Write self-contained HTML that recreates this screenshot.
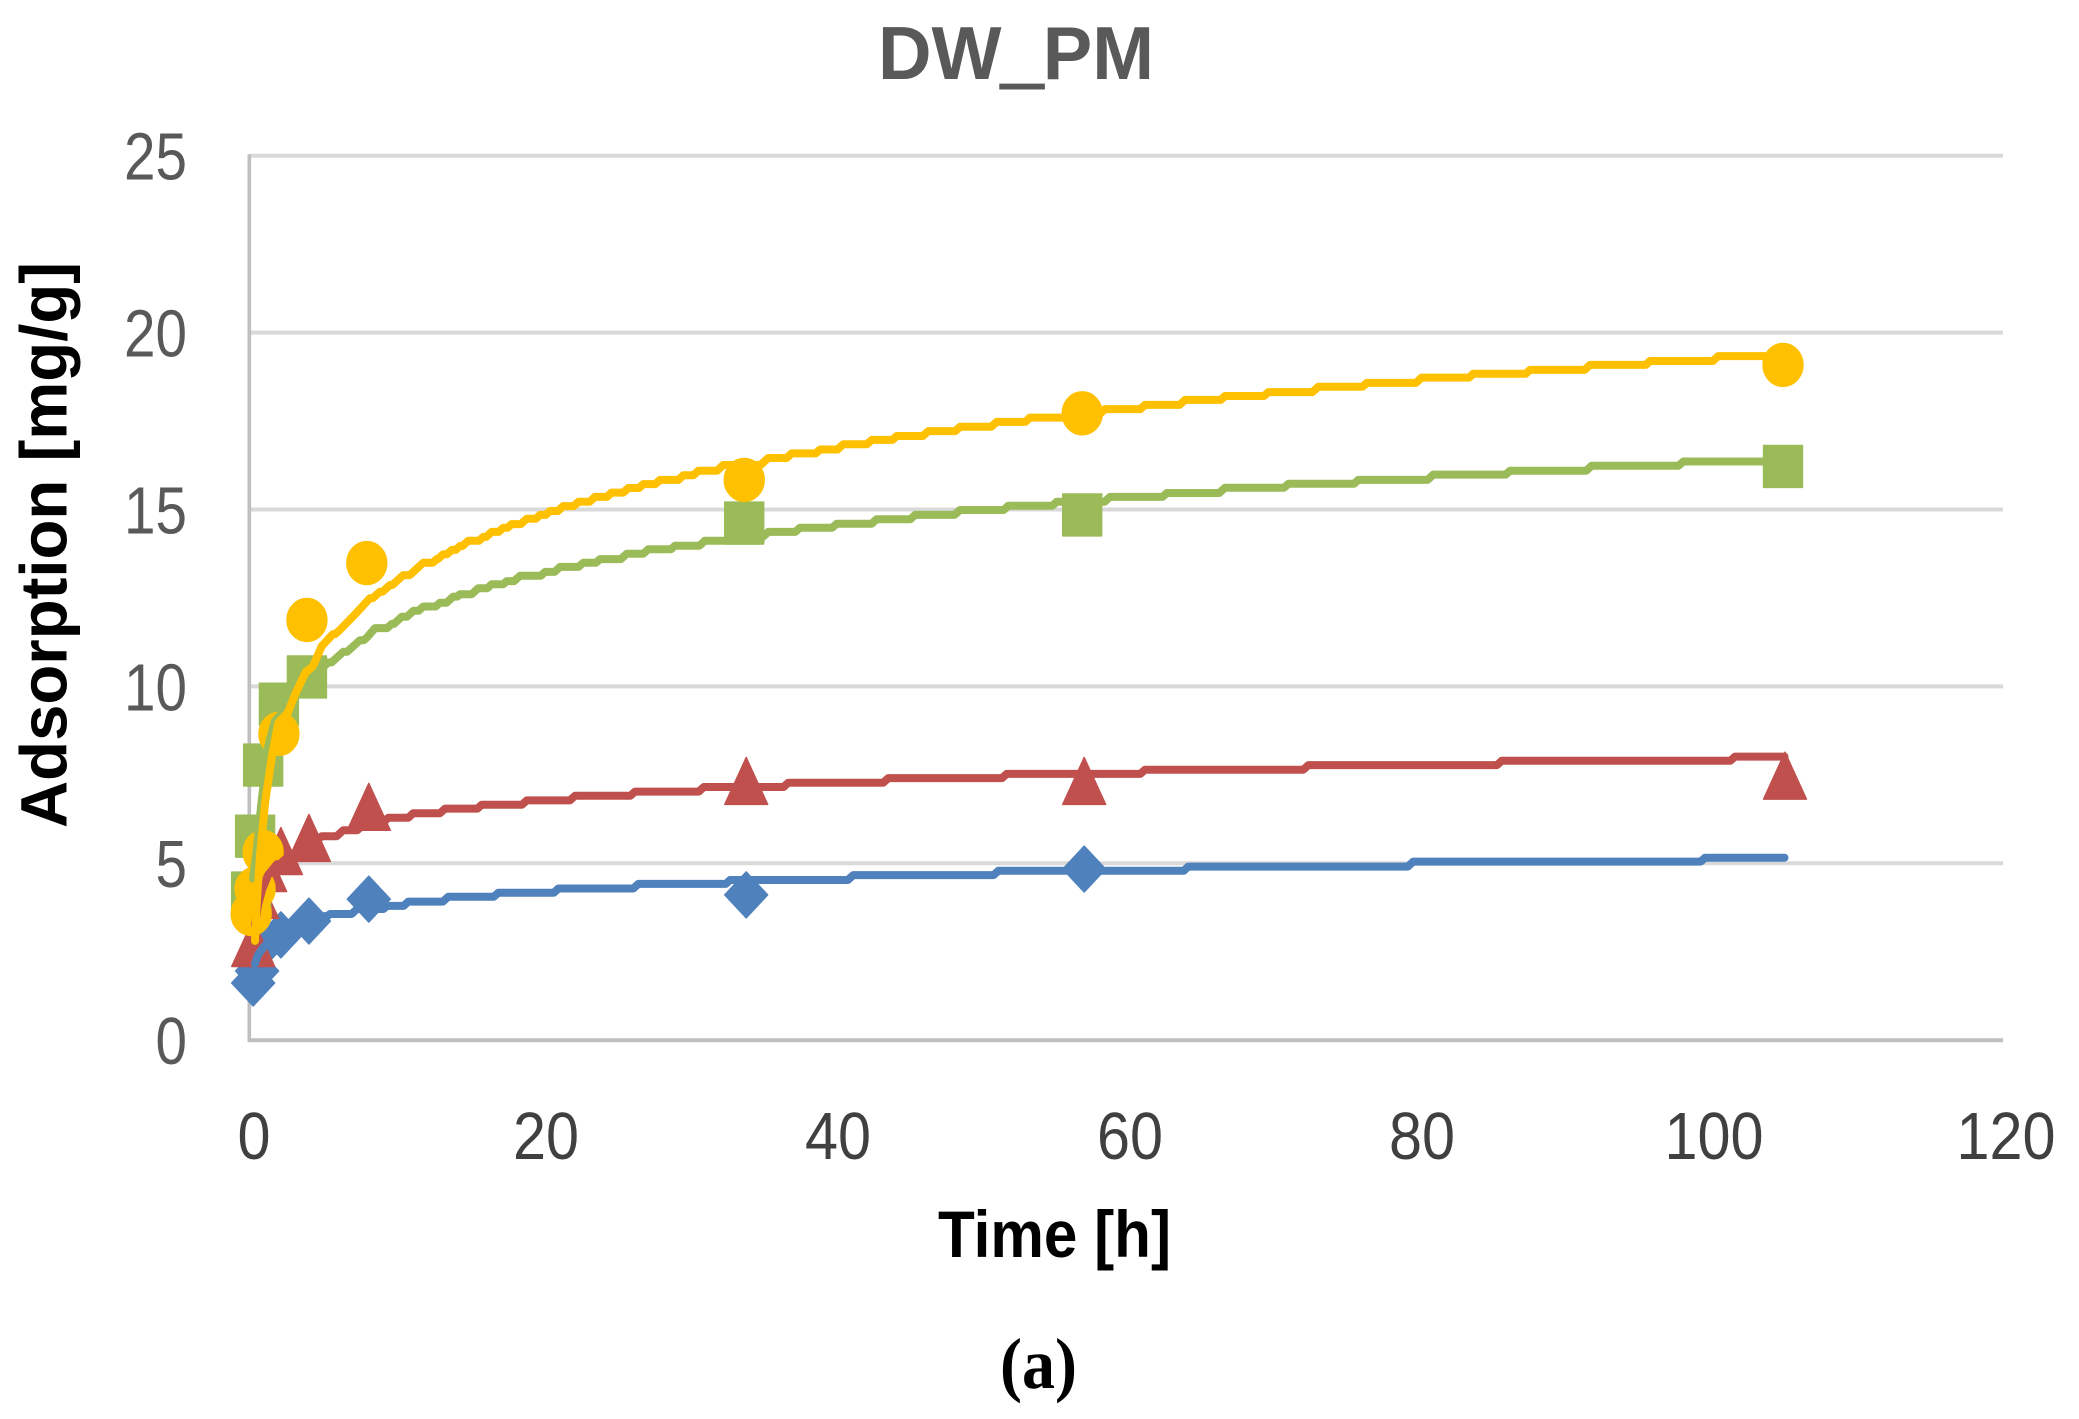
<!DOCTYPE html>
<html lang="en">
<head>
<meta charset="utf-8">
<title>DW_PM adsorption chart</title>
<style>
html,body{margin:0;padding:0;background:#fff;}
svg{display:block;}
text{font-family:"Liberation Sans",sans-serif;}
</style>
</head>
<body>
<svg id="chart" xmlns="http://www.w3.org/2000/svg" width="2079" height="1419" viewBox="0 0 2079 1419">
  <rect x="0" y="0" width="2079" height="1419" fill="#ffffff"/>
  <g id="grid"></g>
  <g id="axes"></g>
  <g id="ticks"></g>
  <g id="marks"></g>
  <g id="fits"></g>
  <text x="1016" y="79" text-anchor="middle" font-size="75" font-weight="700" fill="#595959" textLength="276" lengthAdjust="spacingAndGlyphs">DW<tspan stroke="#595959" stroke-width="3">_</tspan>PM</text>
  <text x="1054.5" y="1257" text-anchor="middle" font-size="66" font-weight="700" fill="#000000" textLength="233" lengthAdjust="spacingAndGlyphs">Time [h]</text>
  <text transform="translate(66.5 545) rotate(-90)" text-anchor="middle" font-size="66" font-weight="700" fill="#000000" textLength="566" lengthAdjust="spacingAndGlyphs">Adsorption [mg/g]</text>
  <text x="1038.5" y="1388" text-anchor="middle" font-size="72" font-weight="700" fill="#000000" textLength="77" lengthAdjust="spacingAndGlyphs" style="font-family:'Liberation Serif',serif">(a)</text>
</svg>
<script>
// Axis tick labels
const xTickLabels = [0, 20, 40, 60, 80, 100, 120];
const yTickLabels = [0, 5, 10, 15, 20, 25];

// Measured marker times (h) and values (mg/g); null = no marker visible
const markerTimes = [0.08, 0.35, 0.9, 1.98, 3.9, 8, 33.85, 57, 105];
const diamondValues = [1.6, 1.94, 2.73, 2.96, 3.35, 3.97, 4.09, 4.82, null];
const triangleValues = [2.73, 4.09, 4.85, 5.33, 5.7, 6.58, 7.31, 7.31, 7.46];
const squareValues = [4.14, 5.75, 7.76, 9.48, 10.25, null, 14.6, 14.83, 16.2];
const circleValues = [3.55, 4.26, 5.3, 8.64, 11.86, 13.47, 15.82, 17.7, 19.07];

// Fit lines
const blueFitTimes = [0.34,0.55,0.89,1.51,2.4,3.42,4.52,5.48,7.33,9.38,10.84,13.58,17.0,21.12,26.6,32.88,41.32,51.25,64.27,79.68,99.66,105.1];
const blueFitValues = [2.14,2.39,2.59,2.87,3.1,3.32,3.49,3.55,3.69,3.78,3.9,4.04,4.15,4.27,4.4,4.51,4.65,4.77,4.89,5.03,5.14,5.14];

const redFitTimes = [0.34,0.55,0.82,1.23,1.85,2.74,3.77,4.91,6.39,7.88,9.47,11.18,13.36,15.87,18.95,22.26,26.37,31.08,36.87,43.72,51.83,61.3,72.49,85.73,101.71,105.1];
const redFitValues = [3.24,3.8,4.23,4.65,4.96,5.22,5.5,5.75,5.92,6.12,6.27,6.4,6.53,6.64,6.76,6.89,7.01,7.14,7.26,7.39,7.51,7.63,7.76,7.88,8.0,8.0];

const greenFitTimes = [0.21,0.46,0.8,1.25,1.71,2.6,3.42,4.32,5.36,6.39,7.53,7.99,8.56,9.71,10.39,11.19,11.87,13.01,13.92,14.38,15.64,16.55,17.58,18.49,20.21,21.23,22.83,23.97,25.8,27.28,29.11,31.16,35.5,37.67,40.18,42.92,45.55,48.63,51.94,55.25,58.9,62.79,66.78,71.12,75.91,81.05,86.3,91.9,98.17,105.1];
const greenFitValues = [4.55,5.36,6.77,8.3,9.01,9.4,9.91,10.45,10.66,10.96,11.29,11.36,11.63,11.75,11.95,12.12,12.24,12.35,12.52,12.59,12.76,12.87,12.96,13.11,13.22,13.36,13.48,13.58,13.73,13.86,13.96,14.1,14.35,14.47,14.58,14.71,14.83,14.97,15.09,15.2,15.34,15.45,15.6,15.71,15.82,15.97,16.08,16.22,16.34,16.34];

const yellowFitTimes = [0.34,0.46,0.68,1.03,1.49,1.94,2.6,3.08,3.84,4.32,4.91,5.68,6.16,7.31,8.22,8.9,9.59,10.5,11.18,11.87,12.79,13.24,13.82,14.38,14.95,15.98,16.55,17.35,17.92,18.95,19.86,20.55,21.46,22.49,23.63,24.77,25.91,26.94,28.08,29.68,30.71,32.42,35.5,37.1,39.04,40.64,42.58,44.29,46.46,48.63,51.14,53.42,58.56,61.3,64.04,66.78,69.75,73.17,76.49,80.25,83.79,87.67,91.78,95.89,100.57,105.1];
const yellowFitValues = [2.79,3.84,5.16,6.67,7.99,8.95,9.25,9.75,10.41,10.56,11.12,11.46,11.58,12.07,12.48,12.66,12.85,13.13,13.22,13.48,13.58,13.72,13.84,13.95,14.1,14.21,14.35,14.47,14.57,14.72,14.83,14.94,15.08,15.2,15.34,15.46,15.59,15.7,15.82,15.95,16.08,16.24,16.44,16.57,16.68,16.83,16.95,17.06,17.2,17.32,17.46,17.58,17.82,17.94,18.08,18.19,18.3,18.45,18.56,18.71,18.82,18.93,19.07,19.18,19.32,19.32];

const SVG_NS = 'http://www.w3.org/2000/svg';
function xScale(t) { return 250 + 14.6 * t; }
function yScale(v) { return 1039.6 - 35.38 * v; }

const gridLayer = document.getElementById('grid');
const axesLayer = document.getElementById('axes');
const tickLayer = document.getElementById('ticks');
const markLayer = document.getElementById('marks');
const fitLayer = document.getElementById('fits');

// Gridlines and y tick labels
yTickLabels.forEach(function (v) {
  if (v !== 0) {
    const line = document.createElementNS(SVG_NS, 'line');
    
    
    line.setAttribute('x1', xScale(0));
    line.setAttribute('x2', xScale(120) + 1);
    line.setAttribute('y1', yScale(v) + 0.6);
    line.setAttribute('y2', yScale(v) + 0.6);
    line.setAttribute('stroke', '#d9d9d9');
    line.setAttribute('stroke-width', '4');
    gridLayer.appendChild(line);
  } else {
    const line = document.createElementNS(SVG_NS, 'line');
    
    
    line.setAttribute('x1', xScale(0) - 1.7);
    line.setAttribute('x2', xScale(120) + 1);
    line.setAttribute('y1', yScale(0) + 0.6);
    line.setAttribute('y2', yScale(0) + 0.6);
    line.setAttribute('stroke', '#bfbfbf');
    line.setAttribute('stroke-width', '4');
    axesLayer.appendChild(line);
  }
  const label = document.createElementNS(SVG_NS, 'text');
  
  
  label.setAttribute('x', 187);
  label.setAttribute('y', yScale(v) + 24.5);
  label.setAttribute('text-anchor', 'end');
  label.setAttribute('font-size', '67');
  label.setAttribute('fill', '#595959');
  label.setAttribute('textLength', String(v).length * 31.5);
  label.setAttribute('lengthAdjust', 'spacingAndGlyphs');
  label.textContent = String(v);
  tickLayer.appendChild(label);
});

// Left axis line
const yAxisLine = document.createElementNS(SVG_NS, 'line');


yAxisLine.setAttribute('x1', xScale(0) - 0.7);
yAxisLine.setAttribute('x2', xScale(0) - 0.7);
yAxisLine.setAttribute('y1', yScale(25) - 1);
yAxisLine.setAttribute('y2', yScale(0) + 2.4);
yAxisLine.setAttribute('stroke', '#bfbfbf');
yAxisLine.setAttribute('stroke-width', '3.6');
axesLayer.appendChild(yAxisLine);

// X tick labels
xTickLabels.forEach(function (t) {
  const label = document.createElementNS(SVG_NS, 'text');
  
  
  label.setAttribute('x', xScale(t) + 4);
  label.setAttribute('y', 1159);
  label.setAttribute('text-anchor', 'middle');
  label.setAttribute('font-size', '67');
  label.setAttribute('fill', '#404040');
  label.setAttribute('textLength', String(t).length * 33);
  label.setAttribute('lengthAdjust', 'spacingAndGlyphs');
  label.textContent = String(t);
  tickLayer.appendChild(label);
});

// Marker shapes, centred on (cx, cy)
function diamondPath(cx, cy) {
  return 'M' + cx + ' ' + (cy - 23) + 'L' + (cx + 21.5) + ' ' + cy + 'L' + cx + ' ' + (cy + 23) + 'L' + (cx - 21.5) + ' ' + cy + 'Z';
}
function trianglePath(cx, cy) {
  return 'M' + cx + ' ' + (cy - 23.5) + 'L' + (cx + 21.5) + ' ' + (cy + 23.5) + 'L' + (cx - 21.5) + ' ' + (cy + 23.5) + 'Z';
}
function squarePath(cx, cy) {
  return 'M' + (cx - 19.5) + ' ' + (cy - 21) + 'H' + (cx + 19.5) + 'V' + (cy + 21) + 'H' + (cx - 19.5) + 'Z';
}
function ellipsePath(cx, cy) {
  return 'M' + (cx - 20) + ' ' + cy + 'A20 21.5 0 1 0 ' + (cx + 20) + ' ' + cy + 'A20 21.5 0 1 0 ' + (cx - 20) + ' ' + cy + 'Z';
}

function drawMarkers(values, shape, color, offset, name) {
  values.forEach(function (v, i) {
    if (v === null) return;
    const cx = xScale(markerTimes[i]) + offset;
    const cy = yScale(v);
    const mark = document.createElementNS(SVG_NS, 'path');
    
    
    mark.setAttribute('d', shape(cx, cy));
    mark.setAttribute('fill', color);
    mark.setAttribute('stroke', color);
    mark.setAttribute('stroke-width', '1.4');
    mark.setAttribute('stroke-linejoin', 'round');
    markLayer.appendChild(mark);
  });
}

drawMarkers(diamondValues, diamondPath, '#4f81bd', 2, 'blue-diamond');
drawMarkers(triangleValues, trianglePath, '#c0504d', 2, 'red-triangle');
drawMarkers(squareValues, squarePath, '#9bbb59', 0, 'green-square');
drawMarkers(circleValues, ellipsePath, '#ffc000', 0, 'yellow-circle');

// Fit lines: flat runs joined by short ramps, as pixel-stepped in the picture
function drawFit(times, values, color, name) {
  let d = 'M' + xScale(times[0]).toFixed(1) + ' ' + yScale(values[0]).toFixed(1);
  for (let i = 1; i < times.length; i++) {
    const x0 = xScale(times[i - 1]);
    const y0 = yScale(values[i - 1]);
    const x1 = xScale(times[i]);
    const y1 = yScale(values[i]);
    const ramp = Math.min(x1 - x0, Math.abs(y1 - y0) * 1.1);
    d += 'L' + (x1 - ramp).toFixed(1) + ' ' + y0.toFixed(1);
    d += 'L' + x1.toFixed(1) + ' ' + y1.toFixed(1);
  }
  const path = document.createElementNS(SVG_NS, 'path');
  
  
  path.setAttribute('d', d);
  path.setAttribute('fill', 'none');
  path.setAttribute('stroke', color);
  path.setAttribute('stroke-width', '8');
  path.setAttribute('stroke-linejoin', 'round');
  path.setAttribute('stroke-linecap', 'round');
  fitLayer.appendChild(path);
}

drawFit(blueFitTimes, blueFitValues, '#4f81bd', 'blue-fit-line');
drawFit(redFitTimes, redFitValues, '#c0504d', 'red-fit-line');
drawFit(greenFitTimes, greenFitValues, '#9bbb59', 'green-fit-line');
drawFit(yellowFitTimes, yellowFitValues, '#ffc000', 'yellow-fit-line');
</script>
</body>
</html>
